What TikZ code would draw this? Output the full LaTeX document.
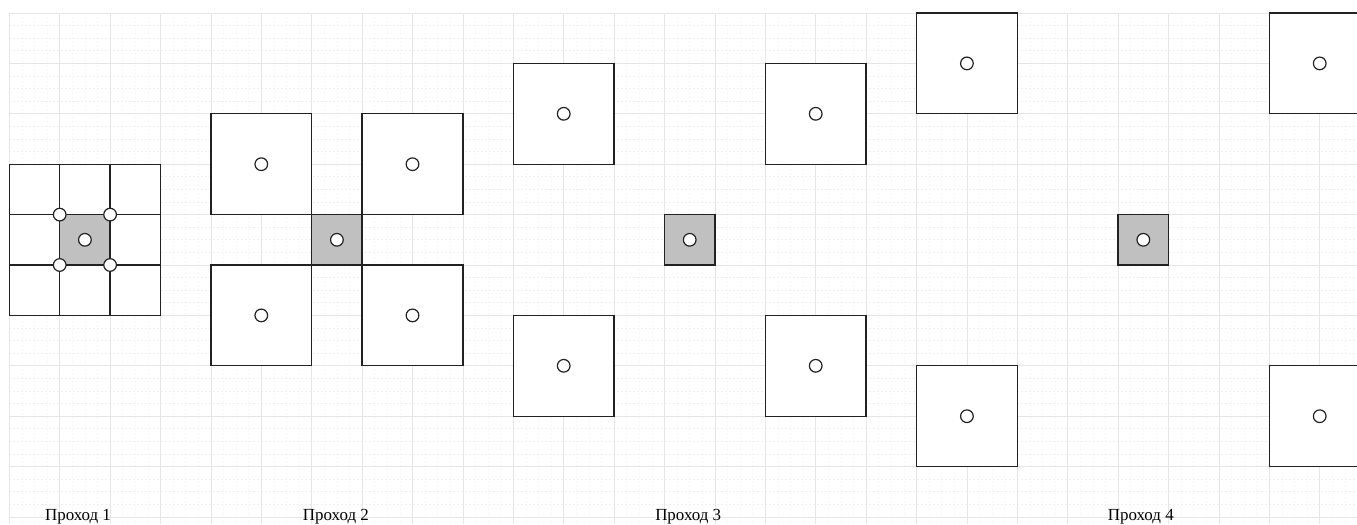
\documentclass[tikz,border=0pt]{standalone}
\usepackage{fontspec}
\setmainfont{Liberation Serif}
\definecolor{gmajor}{HTML}{E6E6E6}
\definecolor{gminor}{HTML}{F0F0F0}
\definecolor{lineC}{HTML}{222222}
\definecolor{greyC}{HTML}{C0C0C0}
\begin{document}
\begin{tikzpicture}[x=37.8pt,y=-37.8pt,
  cellbox/.style={draw=lineC,line width=0.95pt,fill=white,minimum size=37.8pt,inner sep=0pt,outer sep=0pt},
  bigbox/.style={draw=lineC,line width=0.95pt,fill=white,minimum size=75.6pt,inner sep=0pt,outer sep=0pt},
  greybox/.style={draw=lineC,line width=0.95pt,fill=greyC,minimum size=37.8pt,inner sep=0pt,outer sep=0pt},
  pt/.style={circle,draw=lineC,line width=0.9pt,fill=white,minimum size=9.5pt,inner sep=0pt},
  lbl/.style={anchor=base,font=\fontsize{12.7pt}{14pt}\selectfont,text=black,inner sep=0pt}]
\useasboundingbox (-0.1845,-0.2579) rectangle (26.740,10.139);
\fill[white] (-0.1845,-0.2579) rectangle (26.740,10.139);
% minor grid
\foreach \i in {0,...,107} {\draw[gminor,line width=0.5pt,dash pattern=on 1pt off 2pt] (\i*0.25,0) -- (\i*0.25,10.139);}
\foreach \j in {0,...,40} {\draw[gminor,line width=0.5pt,dash pattern=on 1pt off 2pt] (0,\j*0.25) -- (26.740,\j*0.25);}
% major grid
\foreach \i in {0,...,26} {\draw[gmajor,line width=0.6pt] (\i,0) -- (\i,10.139);}
\foreach \j in {0,...,10} {\draw[gmajor,line width=0.6pt] (0,\j) -- (26.740,\j);}
% Pass 1
\foreach \c in {1,2,3} {\foreach \r in {1,2,3} {\node[cellbox] (a\c\r) at (\c-0.5,\r+2.5) {};}}
\node[greybox] (a22) at (1.5,4.5) {};
\node[pt] (a22c) at (a22.center) {};
\node[pt] (a22nw) at (a22.north west) {};
\node[pt] (a22ne) at (a22.north east) {};
\node[pt] (a22sw) at (a22.south west) {};
\node[pt] (a22se) at (a22.south east) {};
% Pass 2
\node[greybox] (b0) at (6.5,4.5) {};
\node[pt] (b0c) at (b0.center) {};
\node[bigbox] (b1) at (5,3) {}; \node[pt] (b1c) at (b1.center) {};
\node[bigbox] (b2) at (8,3) {}; \node[pt] (b2c) at (b2.center) {};
\node[bigbox] (b3) at (5,6) {}; \node[pt] (b3c) at (b3.center) {};
\node[bigbox] (b4) at (8,6) {}; \node[pt] (b4c) at (b4.center) {};
% Pass 3
\node[greybox] (c0) at (13.5,4.5) {};
\node[pt] (c0c) at (c0.center) {};
\node[bigbox] (c1) at (11,2) {}; \node[pt] (c1c) at (c1.center) {};
\node[bigbox] (c2) at (16,2) {}; \node[pt] (c2c) at (c2.center) {};
\node[bigbox] (c3) at (11,7) {}; \node[pt] (c3c) at (c3.center) {};
\node[bigbox] (c4) at (16,7) {}; \node[pt] (c4c) at (c4.center) {};
% Pass 4
\node[greybox] (d0) at (22.5,4.5) {};
\node[pt] (d0c) at (d0.center) {};
\node[bigbox] (d1) at (19,1) {}; \node[pt] (d1c) at (d1.center) {};
\node[bigbox] (d2) at (26,1) {}; \node[pt] (d2c) at (d2.center) {};
\node[bigbox] (d3) at (19,8) {}; \node[pt] (d3c) at (d3.center) {};
\node[bigbox] (d4) at (26,8) {}; \node[pt] (d4c) at (d4.center) {};
% labels
\node[lbl] (l1) at (1.363,10.07) {Проход 1};
\node[lbl] (l2) at (6.48,10.07) {Проход 2};
\node[lbl] (l3) at (13.47,10.07) {Проход 3};
\node[lbl] (l4) at (22.45,10.07) {Проход 4};
\end{tikzpicture}
\end{document}
